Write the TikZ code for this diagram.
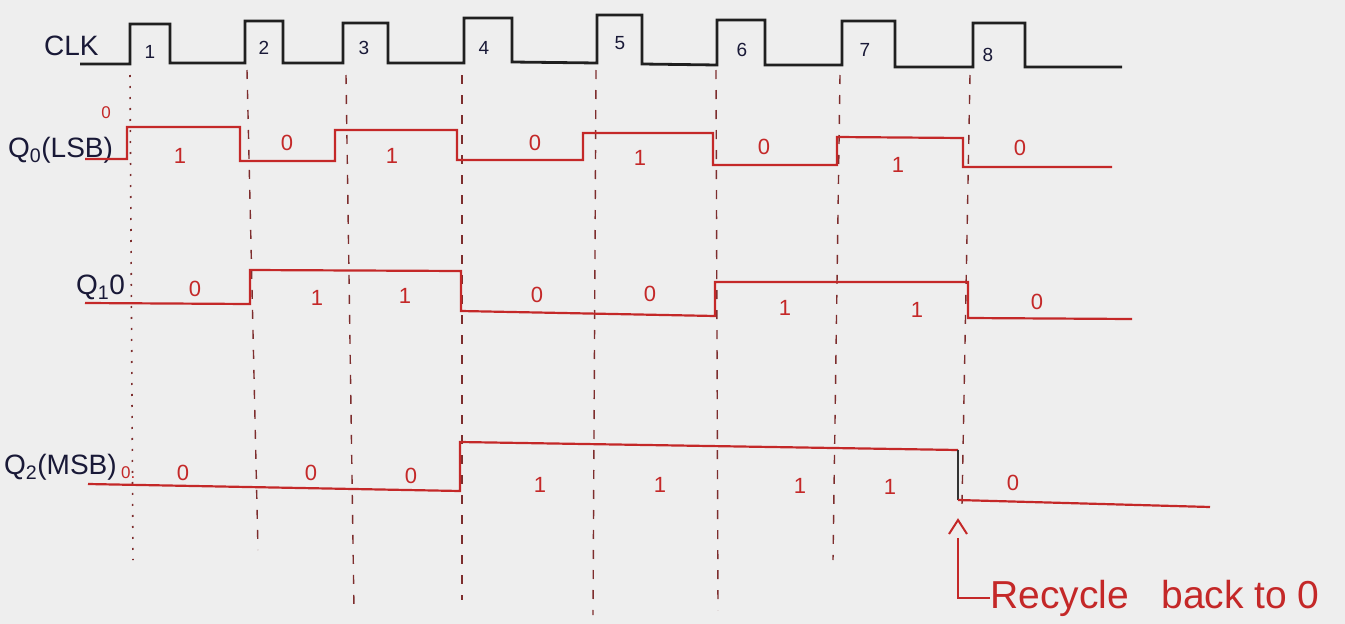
\documentclass[tikz,border=0pt]{standalone}
\usepackage{fontspec}
\setmainfont{Liberation Sans}
\definecolor{paper}{RGB}{238,238,238}
\definecolor{sigred}{RGB}{196,40,40}
\definecolor{guidecol}{RGB}{125,45,45}
\definecolor{ink}{RGB}{25,25,55}
\begin{document}
\begin{tikzpicture}[x=1pt,y=-1pt,
  clk/.style={line width=2.8pt, black!88, line join=miter},
  sig/.style={line width=2.2pt, sigred, line join=miter},
  guide/.style={line width=1.4pt, guidecol, dash pattern=on 9pt off 11pt},
  dotguide/.style={line width=1.6pt, guidecol, dash pattern=on 2pt off 9pt},
  val/.style={text=sigred, font=\fontsize{22}{24}\selectfont, inner sep=0pt},
  num/.style={text=ink, font=\fontsize{19}{21}\selectfont, inner sep=0pt},
  lab/.style={text=ink, font=\fontsize{28}{30}\selectfont, inner sep=0pt, anchor=west}]
\fill[paper] (0,0) rectangle (1345,624);
% guide lines at rising clock edges
\draw[dotguide] (130,75) -- (133,560);
\draw[guide] (247,70) -- (258,550);
\draw[guide] (346,75) -- (354,610);
\draw[guide] (462,75) -- (462,600);
\draw[guide] (596,70) -- (593,615);
\draw[guide] (716,70) -- (718,610);
\draw[guide] (840,75) -- (833,560);
\draw[guide] (970,75) -- (962,505);
% CLK
\node[lab] (clk) at (44,46) {CLK};
\draw[clk] (80,64) -- (130,64) -- (130,24) -- (170,24) -- (170,63) -- (245,63) -- (245,21) -- (283,21) -- (283,63)
  -- (343,63) -- (343,23) -- (388,23) -- (388,63) -- (464,63) -- (464,18) -- (512,18) -- (512,62)
  -- (597,63) -- (597,15) -- (642,15) -- (642,64) -- (717,65) -- (717,20) -- (765,20) -- (765,65)
  -- (842,65) -- (842,21) -- (895,21) -- (895,67) -- (973,67) -- (973,23) -- (1025,23) -- (1025,67) -- (1122,67);
\node[num] (n1) at (150,52) {1};
\node[num] (n2) at (264,48) {2};
\node[num] (n3) at (364,48) {3};
\node[num] (n4) at (484,48) {4};
\node[num] (n5) at (620,43) {5};
\node[num] (n6) at (742,50) {6};
\node[num] (n7) at (865,50) {7};
\node[num] (n8) at (988,55) {8};
% Q0
\node[lab] (q0) at (8,150) {Q\textsubscript{0}(LSB)};
\node[val, font=\fontsize{17}{19}\selectfont] (q0i) at (106,113) {0};
\draw[sig] (85,159) -- (127,159) -- (127,127) -- (240,127) -- (240,161) -- (335,161) -- (335,130) -- (457,130)
  -- (457,160) -- (583,160) -- (583,133) -- (713,133) -- (713,165) -- (837,165) -- (837,137) -- (963,138)
  -- (963,167) -- (1112,167);
\node[val] (q0a) at (180,156) {1};
\node[val] (q0b) at (287,143) {0};
\node[val] (q0c) at (392,156) {1};
\node[val] (q0d) at (535,143) {0};
\node[val] (q0e) at (640,158) {1};
\node[val] (q0f) at (764,147) {0};
\node[val] (q0g) at (898,165) {1};
\node[val] (q0h) at (1020,148) {0};
% Q1
\node[lab] (q1) at (76,287) {Q\textsubscript{1}0};
\draw[sig] (85,303) -- (250,304) -- (250,270) -- (461,271) -- (461,311) -- (715,316) -- (715,282) -- (968,282)
  -- (968,318) -- (1132,319);
\node[val] (q1a) at (195,289) {0};
\node[val] (q1b) at (317,298) {1};
\node[val] (q1c) at (405,296) {1};
\node[val] (q1d) at (537,295) {0};
\node[val] (q1e) at (650,294) {0};
\node[val] (q1f) at (785,308) {1};
\node[val] (q1g) at (917,310) {1};
\node[val] (q1h) at (1037,302) {0};
% Q2
\node[lab] (q2) at (4,467) {Q\textsubscript{2}(MSB)};
\node[val, font=\fontsize{17}{19}\selectfont, anchor=west] (q2i) at (121,473) {0.};
\draw[sig] (88,484) -- (460,491) -- (460,442) -- (958,450);
\draw[line width=2.4pt, black!80] (958,450) -- (958,500);
\draw[sig] (958,500) -- (1210,507);
\node[val] (q2a) at (183,473) {0};
\node[val] (q2b) at (311,473) {0};
\node[val] (q2c) at (411,476) {0};
\node[val] (q2d) at (540,485) {1};
\node[val] (q2e) at (660,485) {1};
\node[val] (q2f) at (800,486) {1};
\node[val] (q2g) at (890,487) {1};
\node[val] (q2h) at (1013,483) {0};
% recycle annotation
\node[text=sigred, font=\fontsize{39}{41}\selectfont, inner sep=0pt, anchor=west] (rec) at (990,598) {Recycle\ \ \ back to 0};
\coordinate (car) at (958,520);
\draw[sig, line width=2pt] ([xshift=-9pt,yshift=-14pt]car) -- (car) -- ([xshift=9pt,yshift=-14pt]car);
\draw[sig, line width=2.4pt] (958,538) -- (958,598) -- (rec.west);
\end{tikzpicture}
\end{document}
